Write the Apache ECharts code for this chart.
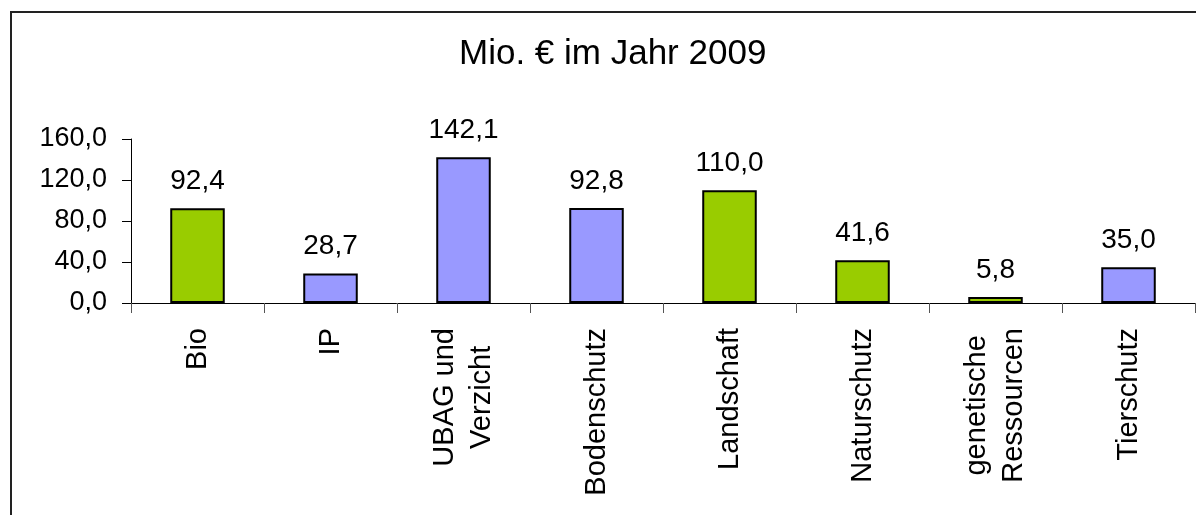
<!DOCTYPE html>
<html>
<head>
<meta charset="utf-8">
<script src="https://cdn.jsdelivr.net/npm/echarts@6/dist/echarts.min.js"></script>
<style>
  html, body { margin: 0; padding: 0; background: #fff; }
  #main { width: 1196px; height: 515px; }
</style>
</head>
<body>
<div id="main"></div>
<script>
// Daten: Mio. € im Jahr 2009
const kategorien = ['Bio', 'IP', 'UBAG und\nVerzicht', 'Bodenschutz', 'Landschaft', 'Naturschutz', 'genetische\nRessourcen', 'Tierschutz'];
const werte = [92.4, 28.7, 142.1, 92.8, 110.0, 41.6, 5.8, 35.0];
const gruppen = ['A', 'B', 'B', 'B', 'A', 'A', 'A', 'B'];
const yTicks = [0, 40, 80, 120, 160];

const farben = { A: '#99cc00', B: '#9999ff' };
const fmt = v => v.toFixed(1).replace('.', ',');
const font = '"Liberation Sans", Arial, sans-serif';

let myChart = echarts.init(document.getElementById('main'));

let option = {
	backgroundColor: '#fff',
	animation: false,
	title: {
		text: 'Mio. € im Jahr 2009',
		left: 459,
		top: 37,
		padding: 0,
		textStyle: {
			fontFamily: font,
			fontSize: 35,
			fontWeight: 'normal',
			color: '#000'
		}
	},
	graphic: [{
		type: 'rect',
		shape: { x: 11, y: 12, width: 1300, height: 600 },
		style: { fill: 'none', stroke: '#222', lineWidth: 2 },
		silent: true
	}],
	grid: {
		left: 131,
		right: 1,
		top: 139,
		bottom: 212,
		containLabel: false
	},
	xAxis: [{
		type: 'category',
		data: kategorien,
		axisLine: { show: true, lineStyle: { color: '#000', width: 1 } },
		axisTick: { show: true, length: 10, lineStyle: { color: '#555' } },
		axisLabel: {
			rotate: 90,
			margin: 25,
			interval: 0,
			formatter: function (v) {
				return v.split('\n').map(s => '{c|' + s + '}').join('\n');
			},
			rich: {
				c: {
					align: 'center',
					fontFamily: font,
					fontSize: 29,
					lineHeight: 37,
					color: '#000'
				}
			}
		},
		splitLine: { show: false }
	}],
	yAxis: [{
		type: 'value',
		min: yTicks[0],
		max: yTicks[yTicks.length - 1],
		interval: yTicks[1] - yTicks[0],
		axisLine: { show: true, lineStyle: { color: '#000', width: 1 } },
		axisTick: { show: true, length: 9, lineStyle: { color: '#000' } },
		axisLabel: {
			margin: 24,
			fontFamily: font,
			fontSize: 27,
			color: '#000',
			formatter: fmt
		},
		splitLine: { show: false }
	}],
	series: [{
		type: 'bar',
		barWidth: '41%',
		data: werte.map((v, i) => ({
			value: v,
			itemStyle: { color: farben[gruppen[i]] }
		})),
		itemStyle: {
			borderColor: '#000',
			borderWidth: 2
		},
		label: {
			show: true,
			position: 'top',
			distance: 13,
			fontFamily: font,
			fontSize: 28,
			color: '#000',
			formatter: p => fmt(p.value)
		}
	}]
};

myChart.setOption(option);
</script>
</body>
</html>
